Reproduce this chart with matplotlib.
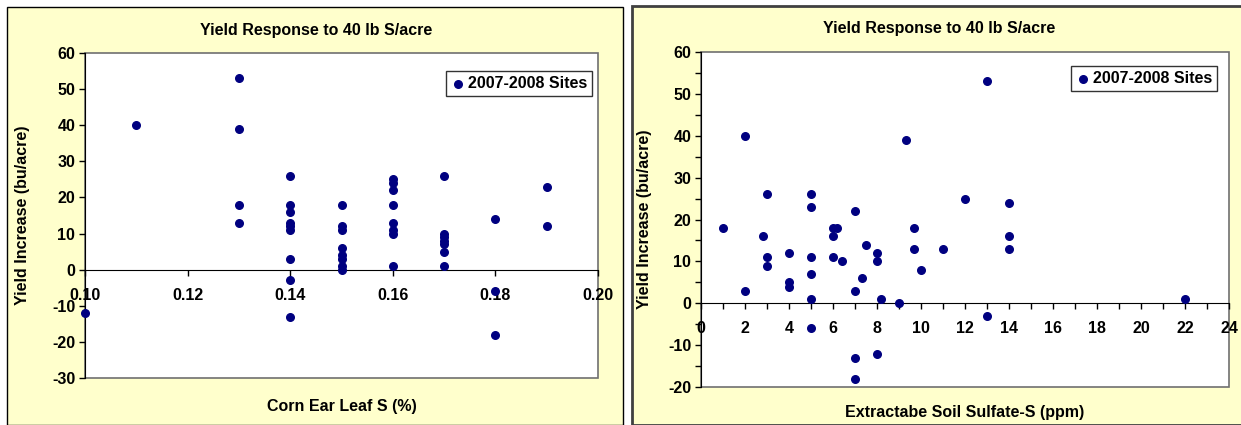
import matplotlib
matplotlib.use('Agg')
import matplotlib.pyplot as plt
from matplotlib.patches import Rectangle
from matplotlib.ticker import MultipleLocator, FormatStrFormatter

plt.rcParams['font.family'] = ['Liberation Sans', 'DejaVu Sans']
plt.rcParams['font.weight'] = 'bold'
plt.rcParams['font.size'] = 10
plt.rcParams['axes.unicode_minus'] = False

# corn ear leaf S (%) vs yield increase
leaf_s = [0.10, 0.11,
          0.13, 0.13, 0.13, 0.13,
          0.14, 0.14, 0.14, 0.14, 0.14, 0.14, 0.14, 0.14, 0.14,
          0.15, 0.15, 0.15, 0.15, 0.15, 0.15, 0.15, 0.15,
          0.16, 0.16, 0.16, 0.16, 0.16, 0.16, 0.16, 0.16,
          0.17, 0.17, 0.17, 0.17, 0.17, 0.17, 0.17,
          0.18, 0.18, 0.18,
          0.19, 0.19]
leaf_yield = [-12, 40,
              53, 39, 18, 13,
              26, 18, 16, 13, 12, 11, 3, -3, -13,
              18, 12, 11, 6, 4, 3, 1, 0,
              25, 24, 22, 18, 13, 11, 10, 1,
              26, 10, 9, 8, 7, 5, 1,
              14, -6, -18,
              23, 12]

# extractable soil sulfate-S (ppm) vs yield increase
soil_s = [1, 2, 2, 2.8, 3, 3, 3, 4, 4, 4,
          5, 5, 5, 5, 5, 5, 6, 6.2, 6, 6,
          6.4, 7, 7, 7, 7, 7.3, 7.5, 8, 8, 8,
          8.2, 9, 9.3, 9.7, 9.7, 10, 11, 12, 13, 13,
          14, 14, 14, 22]
soil_yield = [18, 40, 3, 16, 26, 11, 9, 12, 5, 4,
              26, 23, 11, 7, 1, -6, 18, 18, 16, 11,
              10, 22, 3, -13, -18, 6, 14, 12, 10, -12,
              1, 0, 39, 18, 13, 8, 13, 25, 53, -3,
              24, 16, 13, 1]

title = 'Yield Response to 40 lb S/acre'
series_name = '2007-2008 Sites'
ylabel = 'Yield Increase (bu/acre)'

W, H = 1241, 425
fig = plt.figure(figsize=(W / 100, H / 100), dpi=100)
fig.patch.set_facecolor('white')

# chart-area panels (behind the axes)
fig.add_artist(Rectangle((7 / W, 0), 616 / W, 1 - 7 / H, transform=fig.transFigure,
                         facecolor='#FFFFCC', edgecolor='black', lw=1.0, zorder=-10))
fig.add_artist(Rectangle((632 / W, 0), 620 / W, 1 - 6 / H, transform=fig.transFigure,
                         facecolor='#FFFFCC', edgecolor='#404040', lw=2.0, zorder=-10))


def setup(ax, xlim, ylim):
    ax.set_facecolor('white')
    ax.set_xlim(*xlim)
    ax.set_ylim(*ylim)
    for side in ('top', 'right'):
        ax.spines[side].set_visible(False)
    ax.add_patch(Rectangle((0, 0), 1, 1, transform=ax.transAxes, fill=False,
                           edgecolor='#707070', lw=1.2, clip_on=False, zorder=1))
    ax.spines['bottom'].set_position(('data', 0))
    ax.spines['bottom'].set_color('black')
    ax.spines['left'].set_color('black')
    ax.spines['left'].set_zorder(3)
    ax.tick_params(axis='both', which='both', direction='out', length=4,
                   width=1, color='black', labelsize=11.5)
    ax.tick_params(axis='y', pad=3)
    ax.tick_params(axis='x', pad=9)


def legend(ax, x, y):
    leg = ax.legend(loc='upper right', bbox_to_anchor=(x / W, 1 - y / H),
                    bbox_transform=fig.transFigure, frameon=True, fancybox=False,
                    borderpad=0.3, handletextpad=0.1, handlelength=1.0,
                    borderaxespad=0, fontsize=11.5)
    leg.get_frame().set_edgecolor('black')
    leg.get_frame().set_linewidth(1.0)


# left chart
ax1 = fig.add_axes([85 / W, 1 - 378 / H, 513 / W, 325 / H])
setup(ax1, (0.10, 0.20), (-30, 60))
ax1.scatter(leaf_s, leaf_yield, s=30, color='#000080', zorder=4, clip_on=False,
            label=series_name)
ax1.xaxis.set_major_locator(MultipleLocator(0.02))
ax1.xaxis.set_major_formatter(FormatStrFormatter('%.2f'))
ax1.yaxis.set_major_locator(MultipleLocator(10))
legend(ax1, 592, 71)
fig.text(316 / W, 1 - 30 / H, title, ha='center', va='center', fontsize=11.5)
fig.text(342 / W, 1 - 407 / H, 'Corn Ear Leaf S (%)', ha='center', va='center', fontsize=11.5)
fig.text(22 / W, 1 - 215 / H, ylabel, ha='center', va='center', rotation=90, fontsize=11.5)

# right chart
ax2 = fig.add_axes([701 / W, 1 - 387 / H, 528 / W, 335 / H])
setup(ax2, (0, 24), (-20, 60))
ax2.scatter(soil_s, soil_yield, s=30, color='#000080', zorder=4, clip_on=False,
            label=series_name)
ax2.xaxis.set_major_locator(MultipleLocator(2))
ax2.xaxis.set_minor_locator(MultipleLocator(1))
ax2.yaxis.set_major_locator(MultipleLocator(10))
ax2.yaxis.set_minor_locator(MultipleLocator(5))
legend(ax2, 1217, 66)
fig.text(939 / W, 1 - 28 / H, title, ha='center', va='center', fontsize=11.5)
fig.text(965 / W, 1 - 413 / H, 'Extractabe Soil Sulfate-S (ppm)', ha='center', va='center',
         fontsize=11.5)
fig.text(644 / W, 1 - 219 / H, ylabel, ha='center', va='center', rotation=90, fontsize=11.5)

fig.savefig('out.png', dpi=100)
